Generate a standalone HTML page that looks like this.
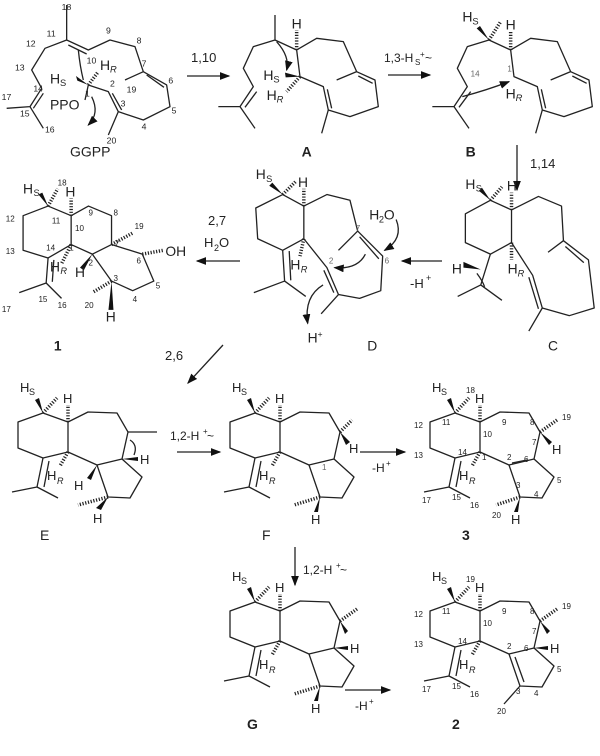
<!DOCTYPE html>
<html><head><meta charset="utf-8"><style>
html,body{margin:0;padding:0;background:#fff;width:600px;height:756px;overflow:hidden}
svg{display:block}
.b{fill:none;stroke:#222;stroke-width:1.3;vector-effect:non-scaling-stroke;stroke-linejoin:round}
.h{stroke:#222;stroke-width:3.5;stroke-dasharray:1.2 1.6;vector-effect:non-scaling-stroke}
.w{fill:#111}
text{font-family:"Liberation Sans",sans-serif;fill:#222}
.n{fill:#666}
</style></head><body>
<svg width="600" height="756" viewBox="0 0 600 756" xmlns="http://www.w3.org/2000/svg">
<defs><marker id="ar" markerWidth="8" markerHeight="6" refX="7" refY="3" orient="auto"><path d="M0,0 L8,3 L0,6z" fill="#111"/></marker></defs>

<!-- GGPP (zoom1 coords) -->
<g transform="scale(0.3333)">
<polyline class="b" points="200,15 200,120 135,145 95,210 125,265 90,320 20,325"/>
<line class="b" x1="130" y1="280" x2="100" y2="325"/>
<line class="b" x1="90" y1="320" x2="130" y2="385"/>
<polyline class="b" points="200,120 265,150 330,120 405,140 430,215 500,255 510,320 430,360 355,335 325,275 265,255"/>
<line class="b" x1="205" y1="135" x2="260" y2="162"/>
<line class="b" x1="440" y1="225" x2="492" y2="262"/>
<line class="b" x1="365" y1="330" x2="337" y2="280"/>
<line class="b" x1="430" y1="215" x2="375" y2="240"/>
<line class="b" x1="355" y1="335" x2="325" y2="405"/>
<line class="b" x1="265" y1="255" x2="255" y2="300"/>
<line class="h" x1="265" y1="255" x2="295" y2="215"/>
<polygon class="w" points="265,255 228,228 232,242"/>
<path class="b" d="M235,150 Q240,200 250,240"/>
<path class="b" d="M275,290 Q300,340 265,375" marker-end="url(#ar)"/>
<text x="150" y="250" font-size="42">H</text><text x="180" y="258" font-size="28">S</text>
<text x="300" y="210" font-size="42">H</text><text x="330" y="218" font-size="28" font-style="italic">R</text>
<text x="150" y="328" font-size="42">PPO</text>
<text x="210" y="470" font-size="42">GGPP</text>
<g class="n" font-size="26"><text x="185" y="30">18</text><text x="140" y="110">11</text><text x="78" y="140">12</text><text x="45" y="212">13</text><text x="100" y="275">14</text><text x="5" y="300">17</text><text x="60" y="350">15</text><text x="135" y="398">16</text><text x="260" y="190">10</text><text x="318" y="100">9</text><text x="410" y="130">8</text><text x="425" y="200">7</text><text x="505" y="250">6</text><text x="515" y="340">5</text><text x="425" y="388">4</text><text x="362" y="320">3</text><text x="330" y="260">2</text><text x="380" y="278">19</text><text x="320" y="430">20</text><text x="255" y="290">1</text></g>
</g>

<line class="b" x1="187" y1="76" x2="229" y2="76" marker-end="url(#ar)"/>
<text x="191" y="62" font-size="13">1,10</text>

<!-- A (zoom3 coords) -->
<g transform="translate(190,0) scale(0.3333)">
<polyline class="b" points="255,45 255,120 190,140 160,205 190,260 150,320 85,320"/>
<line class="b" x1="200" y1="275" x2="165" y2="322"/>
<line class="b" x1="150" y1="320" x2="195" y2="385"/>
<polyline class="b" points="255,120 320,150 380,115 460,125 500,215 555,240 565,320 480,350 415,330 400,260 330,230 320,150"/>
<line class="b" x1="505" y1="228" x2="548" y2="250"/>
<line class="b" x1="425" y1="325" x2="412" y2="268"/>
<line class="b" x1="500" y1="215" x2="440" y2="240"/>
<line class="b" x1="415" y1="330" x2="395" y2="400"/>
<line class="h" x1="320" y1="150" x2="320" y2="90"/>
<polygon class="w" points="330,230 285,218 287,232"/>
<line class="h" x1="330" y1="230" x2="290" y2="275"/>
<path class="b" d="M260,125 Q300,170 290,210" marker-end="url(#ar)"/>
<text x="305" y="85" font-size="42">H</text>
<text x="220" y="240" font-size="42">H</text><text x="250" y="248" font-size="28">S</text>
<text x="230" y="300" font-size="42">H</text><text x="260" y="308" font-size="28" font-style="italic">R</text>
<text x="335" y="470" font-size="42" font-weight="bold">A</text>
</g>

<line class="b" x1="388" y1="75" x2="430" y2="75" marker-end="url(#ar)"/>
<text x="384" y="62" font-size="12">1,3-H</text><text x="415" y="65" font-size="8">S</text><text x="420" y="57" font-size="8">+</text><text x="425" y="62" font-size="12">~</text>

<!-- B -->
<g transform="translate(404,0) scale(0.3333)">
<polyline class="b" points="255,120 190,140 160,205 190,260 150,320 85,320"/>
<line class="b" x1="200" y1="275" x2="165" y2="322"/>
<line class="b" x1="150" y1="320" x2="195" y2="385"/>
<polyline class="b" points="255,120 320,150 380,115 460,125 500,215 555,240 565,320 480,350 415,330 400,260 330,230 320,150"/>
<line class="b" x1="505" y1="228" x2="548" y2="250"/>
<line class="b" x1="425" y1="325" x2="412" y2="268"/>
<line class="b" x1="500" y1="215" x2="440" y2="240"/>
<line class="b" x1="415" y1="330" x2="395" y2="400"/>
<line class="h" x1="320" y1="150" x2="320" y2="95"/>
<polygon class="w" points="255,120 218,85 228,78"/>
<line class="h" x1="255" y1="120" x2="290" y2="65"/>
<path class="b" d="M175,290 Q250,270 315,245" marker-end="url(#ar)"/>
<text x="305" y="88" font-size="42">H</text>
<text x="175" y="65" font-size="42">H</text><text x="205" y="73" font-size="28">S</text>
<text x="305" y="295" font-size="42">H</text><text x="335" y="303" font-size="28" font-style="italic">R</text>
<text class="n" x="200" y="230" font-size="24">14</text><text class="n" x="310" y="215" font-size="24">1</text>
<text x="185" y="470" font-size="42" font-weight="bold">B</text>
</g>

<line class="b" x1="517" y1="145" x2="517" y2="190" marker-end="url(#ar)"/>
<text x="530" y="168" font-size="13">1,14</text>

<g transform="translate(0,-12)">
<!-- D (zoom4 coords) -->
<g transform="translate(0,170) scale(0.3846)">
<polyline class="b" points="735,95 790,125 790,210 735,240 670,210 665,130 735,95"/>
<polyline class="b" points="735,240 740,320 660,350"/>
<line class="b" x1="752" y1="242" x2="756" y2="318"/>
<line class="b" x1="740" y1="320" x2="795" y2="360"/>
<polyline class="b" points="790,125 850,95 910,110 930,190 995,255 990,345 935,365 880,355 850,285 790,210"/>
<line class="b" x1="935" y1="205" x2="985" y2="262"/>
<line class="b" x1="868" y1="350" x2="842" y2="292"/>
<line class="b" x1="930" y1="190" x2="880" y2="240"/>
<line class="b" x1="880" y1="355" x2="835" y2="405"/>
<polygon class="w" points="735,95 700,72 708,64"/>
<line class="h" x1="735" y1="95" x2="770" y2="60"/>
<line class="h" x1="790" y1="125" x2="790" y2="80"/>
<line class="h" x1="790" y1="210" x2="780" y2="255"/>
<path class="b" d="M1030,160 Q1050,210 1000,240" marker-end="url(#ar)"/>
<path class="b" d="M950,250 Q930,290 870,285" marker-end="url(#ar)"/>
<path class="b" d="M840,330 Q790,360 800,430" marker-end="url(#ar)"/>
<text x="665" y="55" font-size="36">H</text><text x="692" y="62" font-size="24">S</text>
<text x="775" y="75" font-size="36">H</text>
<text x="755" y="290" font-size="36">H</text><text x="782" y="298" font-size="24" font-style="italic">R</text>
<text x="960" y="160" font-size="36">H</text><text x="985" y="168" font-size="24">2</text><text x="998" y="160" font-size="36">O</text>
<text x="800" y="480" font-size="36">H</text><text x="826" y="465" font-size="22">+</text>
<text class="n" x="925" y="190" font-size="21">7</text><text class="n" x="1000" y="275" font-size="21">6</text><text class="n" x="855" y="275" font-size="21">2</text>
<text x="955" y="500" font-size="36">D</text>
</g>

<!-- C -->
<g transform="translate(0,170) scale(0.3846)">
<polyline class="b" points="1275,110 1330,135 1330,220 1275,250 1210,220 1210,145 1275,110"/>
<polyline class="b" points="1275,250 1250,330 1190,360"/>
<line class="b" x1="1250" y1="330" x2="1305" y2="370"/>
<polyline class="b" points="1330,135 1400,100 1460,125 1465,215 1530,265 1545,390 1480,410 1410,390 1385,305 1330,220"/>
<line class="b" x1="1470" y1="230" x2="1518" y2="272"/>
<line class="b" x1="1400" y1="392" x2="1375" y2="310"/>
<line class="b" x1="1465" y1="215" x2="1425" y2="245"/>
<line class="b" x1="1410" y1="390" x2="1375" y2="450"/>
<polygon class="w" points="1275,110 1245,85 1253,77"/>
<line class="h" x1="1275" y1="110" x2="1305" y2="75"/>
<line class="h" x1="1330" y1="135" x2="1330" y2="90"/>
<line class="h" x1="1330" y1="220" x2="1330" y2="265"/>
<polygon class="w" points="1250,290 1205,270 1205,285"/>
<path class="b" d="M1240,300 Q1255,320 1260,335"/>
<text x="1210" y="80" font-size="36">H</text><text x="1237" y="87" font-size="24">S</text>
<text x="1318" y="85" font-size="36">H</text>
<text x="1175" y="300" font-size="36">H</text>
<text x="1320" y="300" font-size="36">H</text><text x="1346" y="308" font-size="24" font-style="italic">R</text>
<text x="1425" y="500" font-size="36">C</text>
</g>

<line class="b" x1="442" y1="273" x2="402" y2="273" marker-end="url(#ar)"/>
<text x="410" y="300" font-size="13">-H</text><text x="426" y="293" font-size="9">+</text>
<line class="b" x1="240" y1="273" x2="197" y2="273" marker-end="url(#ar)"/>
<text x="208" y="237" font-size="13">2,7</text>
<text x="204" y="259" font-size="13">H</text><text x="214" y="263" font-size="9">2</text><text x="219" y="259" font-size="13">O</text>

<!-- 1 (zoom4 coords) -->
<g transform="translate(0,170) scale(0.3846)">
<polyline class="b" points="125,125 185,150 185,225 125,260 60,240 60,150 125,125"/>
<polyline class="b" points="185,150 230,125 290,150 290,225 240,250 185,225"/>
<polyline class="b" points="290,225 370,250 400,320 345,345 290,320 240,250"/>
<polyline class="b" points="125,260 120,325 50,350"/>
<line class="b" x1="140" y1="265" x2="136" y2="322"/>
<line class="b" x1="120" y1="325" x2="160" y2="365"/>
<polygon class="w" points="125,125 100,95 110,90"/>
<line class="h" x1="125" y1="125" x2="150" y2="80"/>
<line class="h" x1="185" y1="150" x2="185" y2="105"/>
<line class="h" x1="185" y1="225" x2="160" y2="275"/>
<polygon class="w" points="240,250 208,285 218,292"/>
<line class="h" x1="290" y1="225" x2="345" y2="195"/>
<line class="h" x1="370" y1="250" x2="425" y2="240"/>
<line class="h" x1="290" y1="320" x2="240" y2="350"/>
<polygon class="w" points="290,320 282,395 295,395"/>
<text x="60" y="92" font-size="36">H</text><text x="87" y="99" font-size="24">S</text>
<text x="170" y="100" font-size="36">H</text>
<text x="430" y="255" font-size="36">OH</text>
<text x="130" y="295" font-size="36">H</text><text x="157" y="302" font-size="24" font-style="italic">R</text>
<text x="195" y="310" font-size="36">H</text>
<text x="275" y="425" font-size="36">H</text>
<g class="n" font-size="21"><text x="150" y="72">18</text><text x="135" y="170">11</text><text x="195" y="190">10</text><text x="230" y="150">9</text><text x="295" y="150">8</text><text x="350" y="185">19</text><text x="298" y="230">7</text><text x="355" y="275">6</text><text x="405" y="340">5</text><text x="345" y="375">4</text><text x="295" y="320">3</text><text x="230" y="280">2</text><text x="180" y="240">1</text><text x="120" y="240">14</text><text x="15" y="250">13</text><text x="15" y="165">12</text><text x="5" y="400">17</text><text x="100" y="375">15</text><text x="150" y="390">16</text><text x="220" y="390">20</text></g>
<text x="140" y="500" font-size="36" font-weight="bold">1</text>
</g>
</g>

<line class="b" x1="223" y1="345" x2="188" y2="383" marker-end="url(#ar)"/>
<text x="165" y="360" font-size="13">2,6</text>

<!-- E -->
<g>
<polyline class="b" points="43,413 68,422 68,452 43,458 18,448 18,422 43,413"/>
<polyline class="b" points="43,458 37,487 12,492"/>
<line class="b" x1="49" y1="461" x2="44" y2="487"/>
<line class="b" x1="37" y1="487" x2="58" y2="498"/>
<polyline class="b" points="68,422 88,412 117,413 128,432 122,459 97,465 68,452"/>
<polyline class="b" points="122,459 142,477 130,498 108,497 97,465"/>
<polygon class="w" points="43,413 35,400 39,398"/>
<line class="h" x1="43" y1="413" x2="57" y2="398"/>
<line class="h" x1="68" y1="422" x2="68" y2="405"/>
<line class="h" x1="68" y1="452" x2="60" y2="466"/>
<line class="h" x1="108" y1="497" x2="78" y2="505"/>
<line class="b" x1="128" y1="432" x2="157" y2="432"/>
<polygon class="w" points="97,465 87,478 91,480"/>
<polygon class="w" points="108,497 96,508 101,510"/>
<text x="20" y="392" font-size="13">H</text><text x="29" y="395" font-size="9">S</text>
<text x="63" y="403" font-size="13">H</text>
<text x="47" y="480" font-size="13">H</text><text x="57" y="484" font-size="9" font-style="italic">R</text>
<polygon class="w" points="122,459 138,457 138,461"/>
<text x="140" y="464" font-size="13">H</text><text x="74" y="490" font-size="13">H</text><text x="93" y="523" font-size="13">H</text>
<path class="b" d="M130,440 Q138,445 134,455"/>
<text x="40" y="540" font-size="14">E</text>
</g>
<line class="b" x1="177" y1="452" x2="220" y2="452" marker-end="url(#ar)"/>
<text x="170" y="440" font-size="12">1,2-H</text><text x="203" y="434" font-size="8">+</text><text x="207" y="440" font-size="12">~</text>

<!-- F -->
<g transform="translate(212,0)">
<polyline class="b" points="43,413 68,422 68,452 43,458 18,448 18,422 43,413"/>
<polyline class="b" points="43,458 37,487 12,492"/>
<line class="b" x1="49" y1="461" x2="44" y2="487"/>
<line class="b" x1="37" y1="487" x2="58" y2="498"/>
<polyline class="b" points="68,422 88,412 117,413 128,432 122,459 97,465 68,452"/>
<polyline class="b" points="122,459 142,477 130,498 108,497 97,465"/>
<polygon class="w" points="43,413 35,400 39,398"/>
<line class="h" x1="43" y1="413" x2="57" y2="398"/>
<line class="h" x1="68" y1="422" x2="68" y2="405"/>
<line class="h" x1="68" y1="452" x2="60" y2="466"/>
<line class="h" x1="108" y1="497" x2="82" y2="505"/>
<line class="h" x1="128" y1="432" x2="140" y2="420"/>
<polygon class="w" points="128,432 138,442 134,445"/>
<polygon class="w" points="108,497 102,512 106,512"/>
<text x="20" y="392" font-size="13">H</text><text x="29" y="395" font-size="9">S</text>
<text x="63" y="403" font-size="13">H</text>
<text x="47" y="480" font-size="13">H</text><text x="57" y="484" font-size="9" font-style="italic">R</text>
<text x="137" y="453" font-size="13">H</text><text x="99" y="524" font-size="13">H</text>
<text class="n" x="110" y="470" font-size="8">1</text>
<text x="50" y="540" font-size="14">F</text>
</g>
<line class="b" x1="360" y1="452" x2="405" y2="452" marker-end="url(#ar)"/>
<text x="372" y="472" font-size="12">-H</text><text x="386" y="466" font-size="8">+</text>

<!-- 3 -->
<g transform="translate(412,0)">
<polyline class="b" points="43,413 68,422 68,452 43,458 18,448 18,422 43,413"/>
<polyline class="b" points="43,458 37,487 12,492"/>
<line class="b" x1="49" y1="461" x2="44" y2="487"/>
<line class="b" x1="37" y1="487" x2="58" y2="498"/>
<polyline class="b" points="68,422 88,412 117,413 128,432 122,459 97,465 68,452"/>
<line class="b" x1="115" y1="460" x2="100" y2="463"/>
<polyline class="b" points="122,459 142,477 130,498 108,497 97,465"/>
<polygon class="w" points="43,413 35,400 39,398"/>
<line class="h" x1="43" y1="413" x2="57" y2="398"/>
<line class="h" x1="68" y1="422" x2="68" y2="405"/>
<line class="h" x1="68" y1="452" x2="60" y2="466"/>
<line class="h" x1="108" y1="497" x2="84" y2="505"/>
<line class="h" x1="128" y1="432" x2="145" y2="420"/>
<polygon class="w" points="128,432 140,442 137,445"/>
<polygon class="w" points="108,497 102,512 106,512"/>
<text x="20" y="392" font-size="13">H</text><text x="29" y="395" font-size="9">S</text>
<text x="63" y="403" font-size="13">H</text>
<text x="47" y="480" font-size="13">H</text><text x="57" y="484" font-size="9" font-style="italic">R</text>
<text x="140" y="454" font-size="13">H</text><text x="99" y="524" font-size="13">H</text>
<g class="n" font-size="8"><text x="54" y="393">18</text><text x="30" y="425">11</text><text x="71" y="437">10</text><text x="90" y="425">9</text><text x="118" y="425">8</text><text x="150" y="420">19</text><text x="120" y="445">7</text><text x="112" y="462">6</text><text x="145" y="483">5</text><text x="122" y="497">4</text><text x="104" y="488">3</text><text x="95" y="460">2</text><text x="70" y="460">1</text><text x="46" y="455">14</text><text x="2" y="428">12</text><text x="2" y="458">13</text><text x="10" y="503">17</text><text x="40" y="500">15</text><text x="58" y="508">16</text><text x="80" y="518">20</text></g>
<text x="50" y="540" font-size="14" font-weight="bold">3</text>
</g>

<line class="b" x1="295" y1="547" x2="295" y2="585" marker-end="url(#ar)"/>
<text x="303" y="574" font-size="12">1,2-H</text><text x="336" y="568" font-size="8">+</text><text x="340" y="574" font-size="12">~</text>

<!-- G -->
<g transform="translate(212,189)">
<polyline class="b" points="43,413 68,422 68,452 43,458 18,448 18,422 43,413"/>
<polyline class="b" points="43,458 37,487 12,492"/>
<line class="b" x1="49" y1="461" x2="44" y2="487"/>
<line class="b" x1="37" y1="487" x2="58" y2="498"/>
<polyline class="b" points="68,422 88,412 117,413 128,432 122,459 97,465 68,452"/>
<polyline class="b" points="122,459 142,477 130,498 108,497 97,465"/>
<polygon class="w" points="43,413 35,400 39,398"/>
<line class="h" x1="43" y1="413" x2="57" y2="398"/>
<line class="h" x1="68" y1="422" x2="68" y2="405"/>
<line class="h" x1="68" y1="452" x2="60" y2="466"/>
<line class="h" x1="108" y1="497" x2="82" y2="505"/>
<line class="h" x1="128" y1="432" x2="145" y2="420"/>
<polygon class="w" points="128,432 136,442 133,445"/>
<polygon class="w" points="122,459 136,457 136,461"/>
<polygon class="w" points="108,497 102,512 106,512"/>
<text x="20" y="392" font-size="13">H</text><text x="29" y="395" font-size="9">S</text>
<text x="63" y="403" font-size="13">H</text>
<text x="47" y="480" font-size="13">H</text><text x="57" y="484" font-size="9" font-style="italic">R</text>
<text x="138" y="464" font-size="13">H</text><text x="99" y="524" font-size="13">H</text>
<text x="35" y="540" font-size="14" font-weight="bold">G</text>
</g>
<line class="b" x1="345" y1="690" x2="390" y2="690" marker-end="url(#ar)"/>
<text x="355" y="710" font-size="12">-H</text><text x="369" y="704" font-size="8">+</text>

<!-- 2 -->
<g transform="translate(412,189)">
<polyline class="b" points="43,413 68,422 68,452 43,458 18,448 18,422 43,413"/>
<polyline class="b" points="43,458 37,487 12,492"/>
<line class="b" x1="49" y1="461" x2="44" y2="487"/>
<line class="b" x1="37" y1="487" x2="58" y2="498"/>
<polyline class="b" points="68,422 88,412 117,413 128,432 122,459 97,465 68,452"/>
<polyline class="b" points="122,459 142,477 130,498 108,497 97,465"/>
<line class="b" x1="103" y1="468" x2="112" y2="493"/>
<polygon class="w" points="43,413 35,400 39,398"/>
<line class="h" x1="43" y1="413" x2="57" y2="398"/>
<line class="h" x1="68" y1="422" x2="68" y2="405"/>
<line class="h" x1="68" y1="452" x2="60" y2="466"/>
<line class="b" x1="108" y1="497" x2="92" y2="515"/>
<line class="h" x1="128" y1="432" x2="145" y2="420"/>
<polygon class="w" points="128,432 138,442 135,445"/>
<polygon class="w" points="122,459 136,457 136,461"/>
<text x="20" y="392" font-size="13">H</text><text x="29" y="395" font-size="9">S</text>
<text x="63" y="403" font-size="13">H</text>
<text x="47" y="480" font-size="13">H</text><text x="57" y="484" font-size="9" font-style="italic">R</text>
<text x="138" y="464" font-size="13">H</text>
<g class="n" font-size="8"><text x="54" y="393">19</text><text x="30" y="425">11</text><text x="71" y="437">10</text><text x="90" y="425">9</text><text x="118" y="425">8</text><text x="150" y="420">19</text><text x="120" y="445">7</text><text x="112" y="462">6</text><text x="145" y="483">5</text><text x="122" y="507">4</text><text x="104" y="505">3</text><text x="95" y="460">2</text><text x="2" y="428">12</text><text x="2" y="458">13</text><text x="46" y="455">14</text><text x="10" y="503">17</text><text x="40" y="500">15</text><text x="58" y="508">16</text><text x="85" y="525">20</text></g>
<text x="40" y="540" font-size="14" font-weight="bold">2</text>
</g>
</svg>
</body></html>
